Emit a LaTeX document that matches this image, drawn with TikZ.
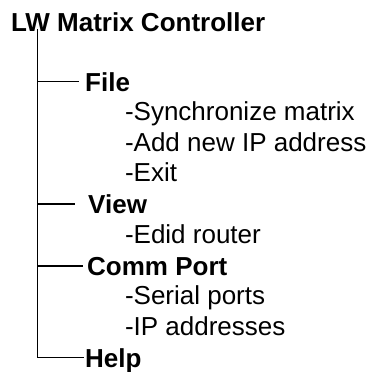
\documentclass[tikz,border=0pt]{standalone}
\usepackage{fontspec}
\setmainfont{Liberation Sans}
\usepackage{tikz}

\tikzset{
  head/.style={anchor=base west, inner sep=0pt, text depth=0pt, font=\fontsize{26}{30}\selectfont\bfseries},
  item/.style={anchor=base west, inner sep=0pt, font=\fontsize{26}{30}\selectfont},
  tree/.style={line width=1.5pt}
}

\begin{document}
\begin{tikzpicture}[x=1pt, y=1pt]
  \useasboundingbox (0,0) rectangle (375,-372);

  % Root
  \node[head] (title) at (10.8,-31) {LW Matrix Controller};
  \coordinate (root) at (37.5,-29);

  % File menu
  \node[head] (file) at (85,-91) {File};
  \node[item] (sync) at (124.8,-120.8) {-Synchronize matrix};
  \node[item] (addip) at (124.8,-151.3) {-Add new IP address};
  \node[item] (exit) at (124.8,-181.8) {-Exit};
  % View menu
  \node[head] (view) at (88,-213.6) {View};
  \node[item] (edid) at (124.8,-243.4) {-Edid router};
  % Comm Port menu
  \node[head] (comm) at (87,-275) {Comm Port};
  \node[item] (serial) at (124.8,-304.8) {-Serial ports};
  \node[item] (ipaddr) at (124.8,-335.4) {-IP addresses};
  % Help menu
  \node[head] (help) at (85,-367) {Help};

  % Tree lines
  \draw[tree] (root) -- (root |- help.west) -- ([xshift=-1pt]help.west);
  \draw[tree] (root |- file.west) -- ([xshift=-6pt]file.west);
  \draw[tree] (root |- view.west) -- ([xshift=-13pt]view.west);
  \draw[tree] (root |- comm.west) -- ([xshift=-4pt]comm.west);
\end{tikzpicture}
\end{document}
